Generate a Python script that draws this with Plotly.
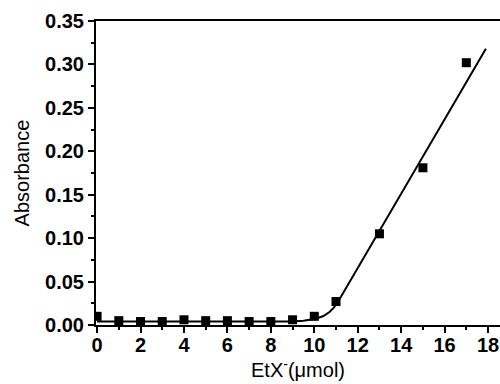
import plotly.graph_objects as go

# measured points
x_pts = [0, 1, 2, 3, 4, 5, 6, 7, 8, 9, 10, 11, 13, 15, 17]
y_pts = [0.010, 0.005, 0.004, 0.004, 0.006, 0.005, 0.005, 0.004, 0.004, 0.006, 0.010, 0.027, 0.105, 0.181, 0.302]

# fitted curve
fit_x = [0, 9.0, 9.5, 10.0, 10.4, 10.7, 10.9, 11.1, 17.9]
fit_y = [0.004, 0.004, 0.005, 0.007, 0.010, 0.015, 0.020, 0.027, 0.318]

x_ticks = [0, 2, 4, 6, 8, 10, 12, 14, 16, 18]
y_ticks = [0.00, 0.05, 0.10, 0.15, 0.20, 0.25, 0.30, 0.35]

FONT = "Liberation Sans, Arial, sans-serif"

fig = go.Figure()
fig.add_trace(go.Scatter(x=fit_x, y=fit_y, mode="lines",
                         line=dict(color="black", width=2), showlegend=False))
fig.add_trace(go.Scatter(x=x_pts, y=y_pts, mode="markers",
                         marker=dict(symbol="square", size=9, color="black"), showlegend=False))

tickfont = dict(family=FONT, size=20, color="black", weight="bold")

fig.update_layout(
    width=500, height=384,
    margin=dict(l=96, r=0, t=21, b=59, autoexpand=False),
    paper_bgcolor="white", plot_bgcolor="white",
    xaxis=dict(
        range=[-0.05, 18.55], tickvals=x_ticks, ticktext=[str(v) for v in x_ticks],
        ticks="outside", ticklen=6, tickwidth=1.5, tickcolor="black",
        minor=dict(dtick=1, tick0=0, ticks="outside", ticklen=3, tickcolor="black", tickwidth=1.5),
        showline=True, linecolor="black", linewidth=2, mirror=True,
        showgrid=False, zeroline=False, tickfont=tickfont, automargin=False,
        ticklabeloverflow="allow", ticklabelstandoff=-5,
        title=dict(text="EtX<sup>-</sup>(μmol)", font=dict(family=FONT, size=20, color="black"), standoff=4),
    ),
    yaxis=dict(
        range=[0, 0.35], tickvals=y_ticks, ticktext=["%.2f" % v for v in y_ticks],
        ticks="outside", ticklen=6, tickwidth=1.5, tickcolor="black",
        minor=dict(dtick=0.025, tick0=0, ticks="outside", ticklen=3, tickcolor="black", tickwidth=1.5),
        showline=True, linecolor="black", linewidth=2, mirror=False,
        showgrid=False, zeroline=False, tickfont=tickfont, automargin=False,
        title=dict(text="Absorbance", font=dict(family=FONT, size=20, color="black"), standoff=10),
    ),
)

fig.write_html("out.html", config={"displayModeBar": False},
               post_script="document.body.style.margin='0';document.body.style.overflow='hidden';")
